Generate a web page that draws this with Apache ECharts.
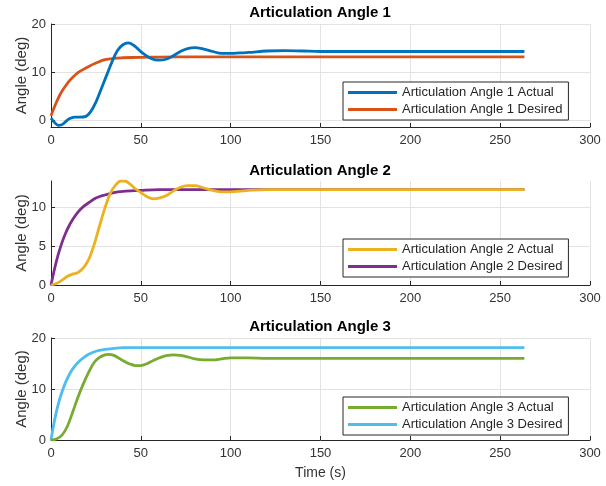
<!DOCTYPE html>
<html>
<head>
<meta charset="utf-8">
<script src="https://cdn.jsdelivr.net/npm/echarts@6/dist/echarts.min.js"></script>
<style>html,body{margin:0;padding:0;background:#fff}#c{width:606px;height:486px}</style>
</head>
<body>
<div id="c"></div>
<script>
// ---- data ----
var titles = ['Articulation Angle 1', 'Articulation Angle 2', 'Articulation Angle 3'];
var xTicks = [0, 50, 100, 150, 200, 250, 300];
var yTicks1 = [0, 10, 20];
var yTicks2 = [0, 5, 10];
var yTicks3 = [0, 10, 20];

var t1Act = [0, 2, 4, 6, 8, 10, 13, 16, 19, 22, 25, 28, 31, 34, 37, 40, 43, 46, 49, 52, 56, 60, 64, 68, 72, 76, 80, 85, 90, 95, 100, 105, 110, 120, 130, 140, 150, 165, 180, 200, 263.5];
var v1Act = [0.5, -0.4, -1.0, -0.9, -0.3, 0.3, 0.7, 0.7, 0.8, 1.8, 3.8, 6.6, 9.4, 12.2, 14.5, 15.7, 16.1, 15.6, 14.6, 13.7, 12.8, 12.5, 12.7, 13.4, 14.3, 14.9, 15.1, 14.8, 14.3, 13.9, 13.9, 14.0, 14.1, 14.4, 14.5, 14.4, 14.3, 14.3, 14.3, 14.3, 14.3];
var t1Des = [0, 2, 4, 6, 8, 10, 12, 15, 18, 21, 25, 30, 35, 40, 50, 60, 80, 120, 180, 263.5];
var v1Des = [1.0, 2.9, 4.6, 6.0, 7.1, 8.1, 8.9, 9.9, 10.6, 11.2, 11.9, 12.6, 12.9, 13.0, 13.1, 13.15, 13.2, 13.2, 13.2, 13.2];

var t2Act = [0, 3, 6, 9, 12, 15, 18, 21, 24, 27, 30, 33, 36, 39, 41, 44, 47, 50, 54, 57, 60, 64, 68, 72, 76, 80, 85, 90, 95, 100, 105, 110, 120, 263.5];
var v2Act = [0, 0.2, 0.6, 1.1, 1.4, 1.6, 2.2, 3.3, 5.2, 7.6, 9.9, 11.8, 12.9, 13.4, 13.4, 13.0, 12.4, 11.9, 11.3, 11.1, 11.2, 11.5, 12.1, 12.6, 12.8, 12.8, 12.5, 12.2, 12.0, 12.0, 12.1, 12.2, 12.3, 12.3];
var t2Des = [0, 2, 4, 6, 8, 10, 12, 15, 18, 21, 25, 30, 35, 40, 50, 60, 263.5];
var v2Des = [0, 2.1, 3.9, 5.4, 6.6, 7.6, 8.4, 9.4, 10.1, 10.6, 11.2, 11.6, 11.9, 12.05, 12.2, 12.3, 12.3];

var t3Act = [0, 3, 6, 9, 12, 15, 18, 21, 24, 27, 30, 32, 35, 38, 41, 44, 47, 50, 53, 57, 61, 65, 68, 72, 76, 80, 85, 90, 95, 100, 110, 120, 150, 263.5];
var v3Act = [0, 0.2, 0.9, 2.6, 5.4, 8.4, 11.0, 13.3, 15.2, 16.2, 16.7, 16.8, 16.6, 16.0, 15.4, 14.9, 14.6, 14.6, 14.9, 15.6, 16.2, 16.6, 16.7, 16.6, 16.3, 15.9, 15.7, 15.7, 15.9, 16.1, 16.1, 16.0, 16.0, 16.0];
var t3Des = [0, 2, 4, 6, 8, 10, 12, 15, 18, 21, 25, 30, 35, 40, 263.5];
var v3Des = [0, 3.9, 7.0, 9.3, 11.2, 12.7, 13.9, 15.2, 16.1, 16.8, 17.4, 17.75, 17.95, 18.1, 18.1];

var seriesNames = [
  ['Articulation Angle 1 Actual', 'Articulation Angle 1 Desired'],
  ['Articulation Angle 2 Actual', 'Articulation Angle 2 Desired'],
  ['Articulation Angle 3 Actual', 'Articulation Angle 3 Desired']
];
var colors = [['#0072BD', '#D95319'], ['#EDB120', '#7E2F8E'], ['#77AC30', '#4DBEEE']];

// ---- build ----
function zip(t, v) { return t.map(function (x, i) { return [x, v[i]]; }); }
var FONT = 'Liberation Sans, Arial, Helvetica, sans-serif';
var AX = '#262626';
var grids = [
  { left: 51, width: 539, top: 24, height: 103 },
  { left: 51, width: 539, top: 181, height: 104 },
  { left: 51, width: 539, top: 338, height: 102 }
];
var yCfg = [
  { min: -1.35, max: 20, ticks: yTicks1 },
  { min: 0, max: 13.4, ticks: yTicks2 },
  { min: 0, max: 20, ticks: yTicks3 }
];
var titleTops = [5, 163, 319];
var legendTops = [82, 239, 397];
var dataSets = [[zip(t1Act, v1Act), zip(t1Des, v1Des)], [zip(t2Act, v2Act), zip(t2Des, v2Des)], [zip(t3Act, v3Act), zip(t3Des, v3Des)]];

var xAxes = [], yAxes = [], series = [], legends = [], titleArr = [];
for (var i = 0; i < 3; i++) {
  xAxes.push({
    type: 'value', gridIndex: i, min: 0, max: 300, interval: 50,
    axisLine: { onZero: false, lineStyle: { color: AX, width: 1 } },
    axisTick: { inside: true, length: 4, lineStyle: { color: AX } },
    axisLabel: { margin: 7, color: '#333', fontSize: 13, fontFamily: FONT, customValues: xTicks },
    splitLine: { show: true, lineStyle: { color: '#e3e3e3', width: 1 } },
    name: i === 2 ? 'Time (s)' : '', nameLocation: 'middle', nameGap: 26, nameMoveOverlap: false,
    nameTextStyle: { color: '#333', fontSize: 14, fontFamily: FONT }
  });
  yAxes.push({
    type: 'value', gridIndex: i, min: yCfg[i].min, max: yCfg[i].max,
    axisLine: { show: true, lineStyle: { color: AX, width: 1 } },
    axisTick: { show: true, inside: true, length: 4, lineStyle: { color: AX }, customValues: yCfg[i].ticks },
    axisLabel: { margin: 5, color: '#333', fontSize: 13, fontFamily: FONT, customValues: yCfg[i].ticks },
    splitLine: { show: true, lineStyle: { color: '#e3e3e3', width: 1 } },
    name: 'Angle (deg)', nameLocation: 'middle', nameGap: 22, nameMoveOverlap: false,
    nameTextStyle: { color: '#333', fontSize: 15, fontFamily: FONT }
  });
  for (var k = 0; k < 2; k++) {
    series.push({
      type: 'line', name: seriesNames[i][k], xAxisIndex: i, yAxisIndex: i,
      data: dataSets[i][k], smooth: 0.35, showSymbol: false, symbol: 'none',
      lineStyle: { color: colors[i][k], width: 2.8 }, itemStyle: { color: colors[i][k] },
      z: k === 0 ? 3 : 2
    });
  }
  legends.push({
    data: seriesNames[i], orient: 'vertical', left: 343, top: legendTops[i],
    backgroundColor: '#fff', borderColor: AX, borderWidth: 1, padding: [3, 6, 3, 5],
    itemGap: 2, itemWidth: 49, itemHeight: 3, icon: 'rect', selectedMode: false,
    textStyle: { color: '#262626', fontSize: 13, fontFamily: FONT, lineHeight: 15 }
  });
  titleArr.push({
    text: titles[i], left: 320, top: titleTops[i], textAlign: 'center', padding: 0,
    textStyle: { color: '#000', fontSize: 15, fontWeight: 'bold', fontFamily: FONT }
  });
}

var chart = echarts.init(document.getElementById('c'), null, { renderer: 'canvas' });
chart.setOption({
  animation: false,
  backgroundColor: '#fff',
  title: titleArr,
  grid: grids,
  xAxis: xAxes,
  yAxis: yAxes,
  legend: legends,
  series: series
});
</script>
</body>
</html>
